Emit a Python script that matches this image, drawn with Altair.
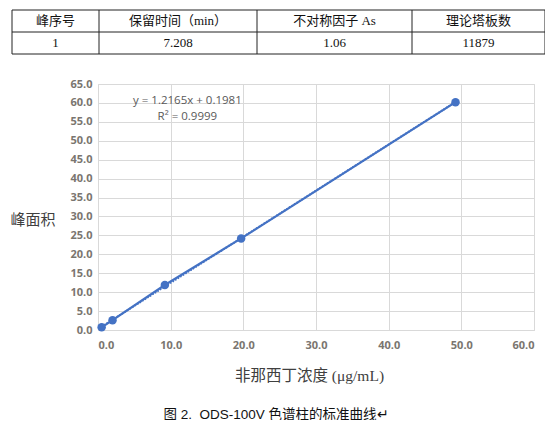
import altair as alt
import pandas as pd

# ---- table data ----
headers = ["峰序号", "保留时间（min）", "不对称因子 As", "理论塔板数"]
values = ["1", "7.208", "1.06", "11879"]
col_widths = [87, 158, 155, 133]

# ---- calibration curve data ----
conc = [0.5, 2.0, 9.2, 19.7, 49.2]
area = [0.7, 2.6, 11.9, 24.2, 60.2]
eq_lines = ["y = 1.2165x + 0.1981", "R² = 0.9999"]
eq_x = [12.3, 12.3]
eq_y = [60.4, 56.2]

BLUE = "#4472C4"
GRID = "#d9d9d9"
LABEL = "#7a756f"

W, H = 436, 246          # plot area
PAD_L, PAD_T = 90, 76    # plot origin inside the page (after the 8px margin)
PAD_R, PAD_B = 11, 90
ROW_H = 22               # table row height (px)
TABLE_DX = -86           # table left edge relative to plot origin
TABLE_DY = -74           # table top edge relative to plot origin

# table frame built from the lists
edges = [0]
for w in col_widths:
    edges.append(edges[-1] + w)
total_w = edges[-1]
cells = []
for i, (h, v) in enumerate(zip(headers, values)):
    cx = (edges[i] + edges[i + 1]) / 2
    cells.append({"x": cx, "row": 0.5, "t": h})
    cells.append({"x": cx, "row": 1.5, "t": v})
cells_df = pd.DataFrame(cells)
vlines = pd.DataFrame({"x": edges, "y0": [0] * len(edges), "y1": [2] * len(edges)})
hlines = pd.DataFrame({"y": [0, 1, 2], "x0": [0] * 3, "x1": [total_w] * 3})

# table scales: 1 unit = 1 px horizontally, 1 row = ROW_H px vertically
x0 = -TABLE_DX
xs = alt.Scale(domain=[x0, x0 + W], nice=False, zero=False)
y0 = -TABLE_DY / ROW_H
ys = alt.Scale(domain=[y0, y0 + H / ROW_H], reverse=True, nice=False, zero=False)

t_text = alt.Chart(cells_df).mark_text(
    font="Liberation Serif, Noto Sans CJK SC", fontSize=13, color="#111", baseline="middle"
).encode(
    x=alt.X("x:Q", scale=xs, axis=None),
    y=alt.Y("row:Q", scale=ys, axis=None),
    text="t:N",
)
t_v = alt.Chart(vlines).mark_rule(color="#222", strokeWidth=1).encode(
    x=alt.X("x:Q", scale=xs, axis=None),
    y=alt.Y("y0:Q", scale=ys, axis=None),
    y2="y1:Q",
)
t_h = alt.Chart(hlines).mark_rule(color="#222", strokeWidth=1).encode(
    y=alt.Y("y:Q", scale=ys, axis=None),
    x=alt.X("x0:Q", scale=xs, axis=None),
    x2="x1:Q",
)
table = alt.layer(t_v, t_h, t_text)

# ---- main chart ----
df = pd.DataFrame({"conc": conc, "area": area})
eq_df = pd.DataFrame({"conc": eq_x, "area": eq_y, "t": eq_lines})

x_enc = alt.X(
    "conc:Q",
    scale=alt.Scale(domain=[0, 60], nice=False),
    axis=alt.Axis(
        values=[0, 10, 20, 30, 40, 50, 60], format=".1f", grid=True, gridColor=GRID,
        domainColor=GRID, ticks=False, labelPadding=9, labelFont="Open Sans",
        labelFontSize=11, labelFontWeight="bold", labelColor=LABEL, labelOverlap=False,
        title="非那西丁浓度 (μg/mL)", titleFont="Liberation Serif, Noto Sans CJK SC",
        titleFontSize=15.5, titleFontWeight="normal", titleColor="#404040", titlePadding=18,
        titleX=211, titleAlign="center",
    ),
)
y_enc = alt.Y(
    "area:Q",
    scale=alt.Scale(domain=[0, 65], nice=False),
    axis=alt.Axis(
        values=list(range(0, 66, 5)), format=".1f", grid=True, gridColor=GRID,
        domain=False, ticks=False, labelPadding=6, labelFont="Open Sans",
        labelFontSize=11, labelFontWeight="bold", labelColor=LABEL, labelOverlap=False,
        title="峰面积", titleFont="Liberation Serif, Noto Sans CJK SC", titleFontSize=15,
        titleFontWeight="normal", titleColor="#404040", titleAngle=0,
        titleAlign="left", titleBaseline="middle", titleX=-88, titleY=135,
    ),
)

base = alt.Chart(df)
trend = base.transform_regression("conc", "area").mark_line(
    color=BLUE, strokeWidth=2, strokeDash=[1.5, 1.5]
).encode(x=x_enc, y=y_enc)
line = base.mark_line(color=BLUE, strokeWidth=2.25).encode(x=x_enc, y=y_enc)
pts = base.mark_circle(color=BLUE, size=72, opacity=1).encode(x=x_enc, y=y_enc)
eq = alt.Chart(eq_df).mark_text(
    font="Open Sans", fontSize=11.5, color="#595959", baseline="middle"
).encode(x=x_enc, y=y_enc, text="t:N")

main = alt.layer(trend, line, pts, eq)

chart = alt.layer(main, table).resolve_scale(x="independent", y="independent").properties(
    width=W, height=H,
    autosize=alt.AutoSizeParams(type="none"),
    padding={"left": PAD_L, "top": PAD_T, "right": PAD_R, "bottom": PAD_B},
    title=alt.TitleParams(
        text="图 2.\u00a0\u00a0ODS-100V 色谱柱的标准曲线↵", orient="bottom", anchor="middle",
        frame="group", font="Liberation Sans, Noto Sans CJK SC", fontSize=13.5,
        fontWeight="normal", color="#111", offset=24, dx=-40,
    ),
).configure_view(stroke=None).configure(background="white")

chart.save("out.html", embed_options={"renderer": "svg", "actions": False})
